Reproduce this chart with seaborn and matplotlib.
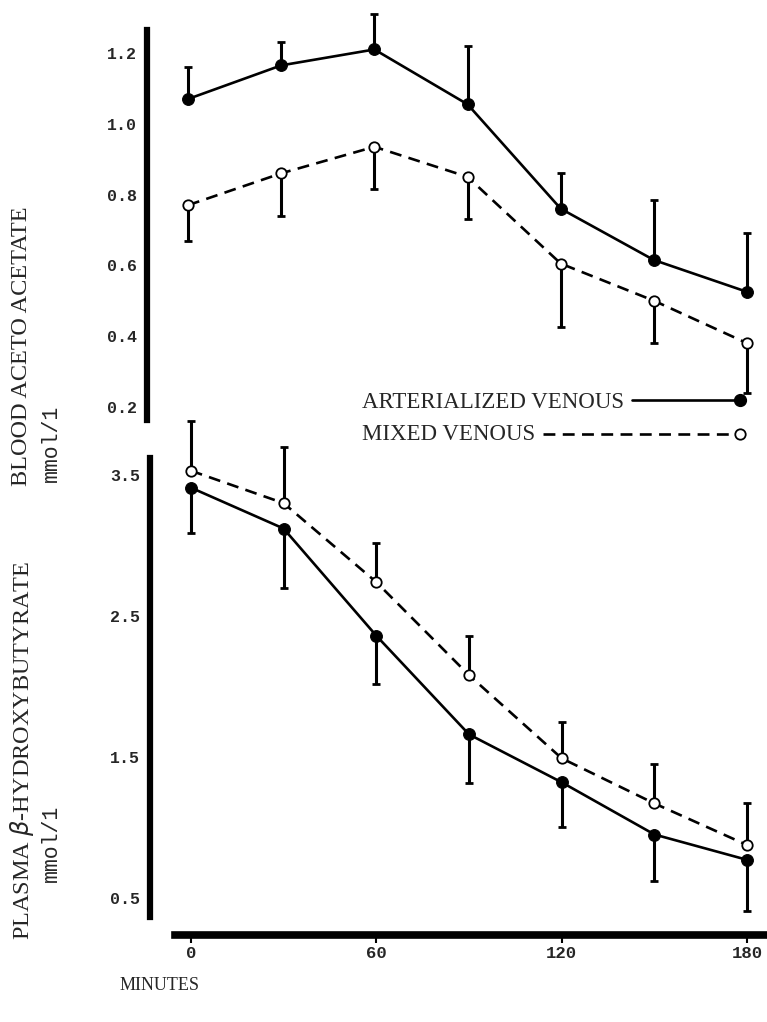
import numpy as np
import pandas as pd
import matplotlib
matplotlib.use("Agg")
import matplotlib.pyplot as plt
from matplotlib.lines import Line2D
import seaborn as sns

# sampling times (minutes)
minutes = [0, 30, 60, 90, 120, 150, 180]

# blood aceto acetate, mmol/1
aceto_art = [1.07, 1.165, 1.21, 1.055, 0.76, 0.615, 0.525]
aceto_art_se = [0.09, 0.065, 0.10, 0.165, 0.10, 0.17, 0.165]
aceto_mix = [0.77, 0.86, 0.935, 0.85, 0.605, 0.50, 0.38]
aceto_mix_se = [0.10, 0.12, 0.12, 0.12, 0.18, 0.12, 0.14]

# plasma beta-hydroxybutyrate, mmol/1
hydroxy_art = [3.41, 3.12, 2.36, 1.66, 1.32, 0.95, 0.77]
hydroxy_art_se = [0.32, 0.42, 0.345, 0.345, 0.32, 0.33, 0.36]
hydroxy_mix = [3.53, 3.30, 2.74, 2.08, 1.49, 1.17, 0.875]
hydroxy_mix_se = [0.35, 0.40, 0.28, 0.275, 0.255, 0.28, 0.30]

aceto_ticks = [0.2, 0.4, 0.6, 0.8, 1.0, 1.2]
hydroxy_ticks = [0.5, 1.5, 2.5, 3.5]
minute_ticks = [0, 60, 120, 180]

sns.set_theme(style="white")
plt.rcParams['font.family'] = ['Liberation Serif', 'DejaVu Serif']

W, H = 767, 1022
fig = plt.figure(figsize=(W / 100, H / 100), dpi=100)

def px_box(left, top, right, bottom):
    return [left / W, 1 - bottom / H, (right - left) / W, (bottom - top) / H]

ax1 = fig.add_axes(px_box(147, 30, 767, 420))
ax2 = fig.add_axes(px_box(150, 458, 767, 917))

xlim = (-13.2, 186.4)
mono = 'Liberation Mono'


def series(ax, vals, se, filled, up):
    df = pd.DataFrame({'minutes': minutes, 'value': vals})
    err = np.array(se)
    zeros = np.zeros_like(err)
    yerr = [zeros, err] if up else [err, zeros]
    eb = ax.errorbar(minutes, vals, yerr=yerr, fmt='none', ecolor='black',
                     elinewidth=2.2, capsize=3, capthick=2, zorder=2)
    for art in eb.lines[1] + eb.lines[2]:
        art.set_clip_on(False)
    if filled:
        sns.lineplot(data=df, x='minutes', y='value', ax=ax, color='black',
                     lw=1.9, marker='o', markersize=8.5, markerfacecolor='black',
                     markeredgecolor='black', zorder=3, errorbar=None)
    else:
        sns.lineplot(data=df, x='minutes', y='value', ax=ax, color='black',
                     lw=1.9, marker='o', markersize=7.5,
                     markerfacecolor='white', markeredgecolor='black',
                     markeredgewidth=1.3, zorder=3, errorbar=None)
        ax.lines[-1].set_linestyle((0, (4.5, 2.8)))
    ax.lines[-1].set_clip_on(False)


series(ax1, aceto_art, aceto_art_se, True, True)
series(ax1, aceto_mix, aceto_mix_se, False, False)
series(ax2, hydroxy_art, hydroxy_art_se, True, False)
series(ax2, hydroxy_mix, hydroxy_mix_se, False, True)

for ax in (ax1, ax2):
    ax.set_xlim(*xlim)
    ax.set_facecolor('none')
    ax.set_xlabel('')
    ax.set_ylabel('')
    for s in ('top', 'right'):
        ax.spines[s].set_visible(False)
    ax.spines['left'].set_linewidth(4.5)
    ax.spines['left'].set_color('black')
    ax.tick_params(axis='y', direction='out', length=6, width=1.5,
                   color='black', pad=1)

ax1.set_ylim(0.163, 1.265)
ax1.set_yticks(aceto_ticks)
ax1.set_yticklabels([f'{t:.1f}' for t in aceto_ticks], family=mono,
                    fontsize=12, fontweight='bold')
ax1.spines['bottom'].set_visible(False)
ax1.set_xticks([])

ax2.set_ylim(0.365, 3.62)
ax2.set_yticks(hydroxy_ticks)
ax2.set_yticklabels([f'{t:.1f}' for t in hydroxy_ticks], family=mono,
                    fontsize=12, fontweight='bold')
ax2.spines['bottom'].set_position(('outward', 13))
ax2.spines['bottom'].set_linewidth(5.5)
ax2.spines['bottom'].set_color('black')
ax2.spines['bottom'].set_bounds(-5, xlim[1])
ax2.set_xticks(minute_ticks)
ax2.set_xticklabels([str(t) for t in minute_ticks], family=mono,
                    fontsize=12.5, fontweight='bold')
ax2.tick_params(axis='x', direction='out', length=6, width=1.5,
                color='black', pad=2, bottom=True)

# axis titles
fig.text(22 / W, 1 - 346 / H, 'BLOOD ACETO ACETATE', rotation=90,
         ha='center', va='center', fontsize=17.5)
fig.text(51 / W, 1 - 482 / H, 'mmol/1', rotation=90, ha='center',
         va='bottom', fontsize=15.5, family=mono)
fig.text(22 / W, 1 - 750 / H, 'PLASMA $\\beta$-HYDROXYBUTYRATE', rotation=90,
         ha='center', va='center', fontsize=17.5)
fig.text(51 / W, 1 - 882 / H, 'mmol/1', rotation=90, ha='center',
         va='bottom', fontsize=15.5, family=mono)
fig.text(120 / W, 1 - 985 / H, 'MINUTES', ha='left', va='center',
         fontsize=13)

# key
fig.text(362 / W, 1 - 403 / H, 'ARTERIALIZED VENOUS', ha='left',
         va='center', fontsize=16.5)
fig.text(362 / W, 1 - 435 / H, 'MIXED VENOUS', ha='left', va='center',
         fontsize=16.5)
fig.add_artist(Line2D([632 / W, 740 / W], [1 - 400 / H, 1 - 400 / H],
                      color='black', lw=1.9))
fig.add_artist(Line2D([740 / W], [1 - 400 / H], marker='o', markersize=8.5,
                      color='black'))
fig.add_artist(Line2D([543 / W, 740 / W], [1 - 434 / H, 1 - 434 / H],
                      color='black', lw=1.9, linestyle=(0, (4.5, 2.8))))
fig.add_artist(Line2D([740 / W], [1 - 434 / H], marker='o', markersize=7.5,
                      markerfacecolor='white', markeredgecolor='black',
                      markeredgewidth=1.3))

fig.savefig('out.png', dpi=100)
